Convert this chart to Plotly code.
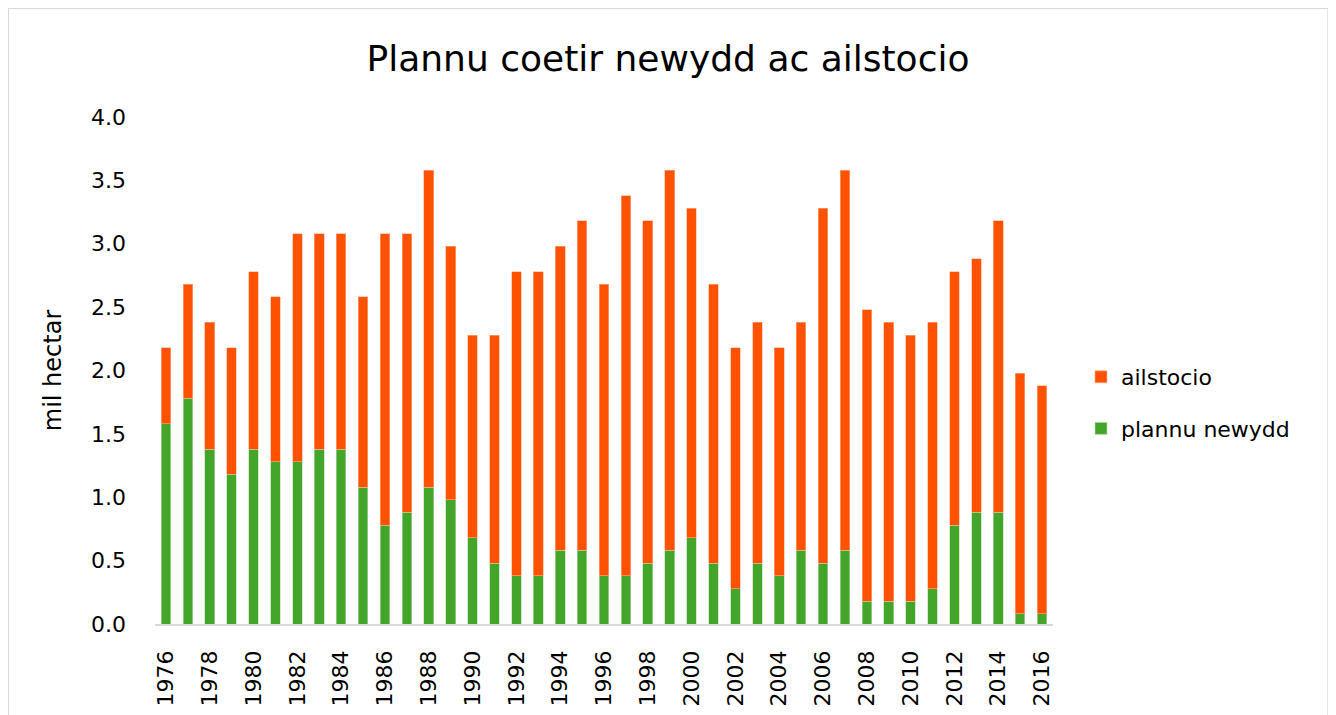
import plotly.graph_objects as go

years = list(range(1976, 2017))
plannu_newydd = [1.58, 1.78, 1.38, 1.18, 1.38, 1.28, 1.28, 1.38, 1.38, 1.08,
                 0.78, 0.88, 1.08, 0.98, 0.68, 0.48, 0.38, 0.38, 0.58, 0.58,
                 0.38, 0.38, 0.48, 0.58, 0.68, 0.48, 0.28, 0.48, 0.38, 0.58,
                 0.48, 0.58, 0.18, 0.18, 0.18, 0.28, 0.78, 0.88, 0.88, 0.08,
                 0.08]
ailstocio = [0.6, 0.9, 1.0, 1.0, 1.4, 1.3, 1.8, 1.7, 1.7, 1.5,
             2.3, 2.2, 2.5, 2.0, 1.6, 1.8, 2.4, 2.4, 2.4, 2.6,
             2.3, 3.0, 2.7, 3.0, 2.6, 2.2, 1.9, 1.9, 1.8, 1.8,
             2.8, 3.0, 2.3, 2.2, 2.1, 2.1, 2.0, 2.0, 2.3, 1.9,
             1.8]
tick_years = list(range(1976, 2017, 2))
y_ticks = [0, 0.5, 1.0, 1.5, 2.0, 2.5, 3.0, 3.5, 4.0]

GREEN = "#43A52A"
ORANGE = "#FF5200"
FONT = "DejaVu Sans"

fig = go.Figure()
fig.add_trace(go.Bar(x=years, y=plannu_newydd, name="plannu newydd",
                     marker=dict(color=GREEN, line=dict(color="#B9DDB0", width=0.6)),
                     legendgroup="b", legendrank=2))
fig.add_trace(go.Bar(x=years, y=ailstocio, name="ailstocio",
                     marker=dict(color=ORANGE, line=dict(color="#FFB08A", width=0.6)),
                     legendgroup="a", legendrank=1))

# figure coordinates (page is offset by 8px body margin)
L, R, T, B = 147, 291, 109, 99
W, H = 1336, 715
pw, ph = W - L - R, H - T - B

def px(x):
    return (x - L) / pw

def py(y):
    return (H - B - y) / ph

fig.update_layout(
    width=W, height=H,
    margin=dict(l=L, r=R, t=T, b=B, pad=0),
    plot_bgcolor="white", paper_bgcolor="white",
    barmode="stack", bargap=0.56,
    title=dict(text="Plannu coetir newydd ac ailstocio", x=(360 + 960) / 2 / W, xanchor="center",
               y=1 - 50 / H, yanchor="middle",
               font=dict(family=FONT, size=36, color="black")),
    font=dict(family=FONT, color="black"),
    legend=dict(x=px(1073), xanchor="left", y=py(395), yanchor="middle",
                traceorder="grouped", tracegroupgap=20,
                font=dict(family=FONT, size=22, color="black"),
                itemwidth=30, bgcolor="rgba(0,0,0,0)"),
    shapes=[dict(type="rect", xref="paper", yref="paper",
                 x0=px(0.5), x1=px(1320), y0=py(730), y1=py(0.5),
                 line=dict(color="#D9D9D9", width=1.2), fillcolor="rgba(0,0,0,0)",
                 layer="below")],
)

fig.update_xaxes(range=[1975.5, 2016.5], tickmode="array", tickvals=tick_years,
                 ticktext=[str(t) for t in tick_years], tickangle=-90,
                 tickfont=dict(family=FONT, size=22, color="black"),
                 showgrid=False, zeroline=False, showline=True,
                 linecolor="#D9D9D9", linewidth=1.5, ticks="", ticklabelstandoff=16)
fig.update_yaxes(range=[0, 4.0], tickmode="array", tickvals=y_ticks,
                 ticktext=[f"{v:.1f}" for v in y_ticks],
                 tickfont=dict(family=FONT, size=22, color="black"),
                 showgrid=False, zeroline=False, showline=False, ticks="",
                 ticklabelstandoff=28,
                 title=dict(text="mil hectar", font=dict(family=FONT, size=24, color="black"),
                            standoff=22))

fig.write_html("out.html")
